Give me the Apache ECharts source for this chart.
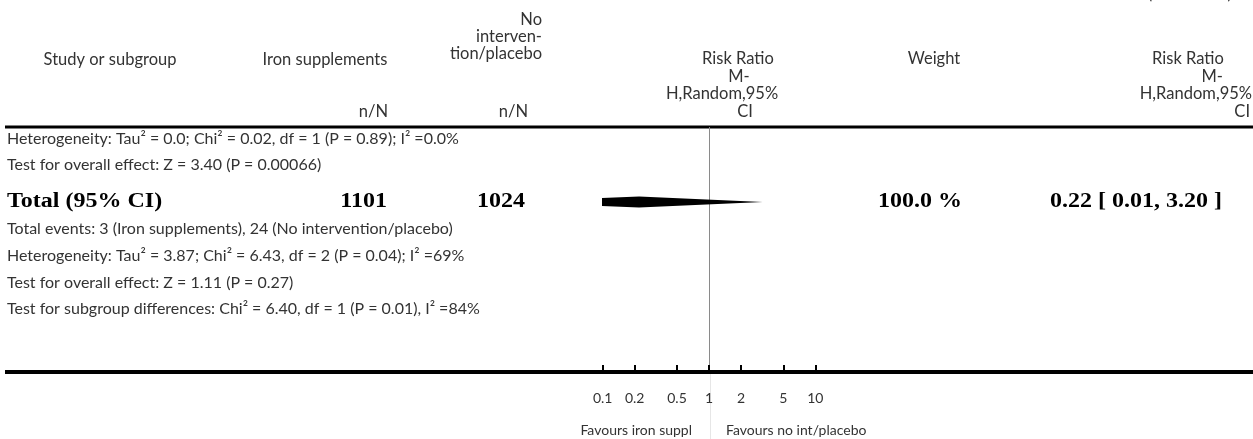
<!DOCTYPE html>
<html><head><meta charset="utf-8">
<script src="https://cdn.jsdelivr.net/npm/echarts@6/dist/echarts.min.js"></script>
<style>html,body{margin:0;padding:0;background:#fff}#c{width:1253px;height:439px}</style>
</head><body><div id="c"></div>
<script>
// ---- data ----
const tickValues = [0.1, 0.2, 0.5, 1, 2, 5, 10];
const tickLabels = ['0.1', '0.2', '0.5', '1', '2', '5', '10'];
const axisRange = [0.1, 10];
const nullValue = 1;
const totalRR = [0.22, 0.01, 3.20];           // estimate, lower, upper
const totalCounts = ['1101', '1024'];
const totalWeight = '100.0 %';
const totalRRText = '0.22 [ 0.01, 3.20 ]';
const headerCols = ['Study or subgroup', 'Iron supplements', 'No\ninterven-\ntion/placebo', 'Risk Ratio\nM-\nH,Random,95%\nCI', 'Weight', 'Risk Ratio\nM-\nH,Random,95%\nCI'];
const subLines1 = ['Heterogeneity: Tau² = 0.0; Chi² = 0.02, df = 1 (P = 0.89); I² =0.0%', 'Test for overall effect: Z = 3.40 (P = 0.00066)'];
const totalLabel = 'Total (95% CI)';
const subLines2 = ['Total events: 3 (Iron supplements), 24 (No intervention/placebo)', 'Heterogeneity: Tau² = 3.87; Chi² = 6.43, df = 2 (P = 0.04); I² =69%', 'Test for overall effect: Z = 1.11 (P = 0.27)', 'Test for subgroup differences: Chi² = 6.40, df = 1 (P = 0.01), I² =84%'];
const favourLabels = ['Favours iron suppl', 'Favours no int/placebo'];

// ---- layout ----
const SANS = 'Lato, "Open Sans", sans-serif';
const SERIF = '"Liberation Serif", "DejaVu Serif", serif';
const FS = 16, TXT = '#333';
const gridTop = 127, axisY = 372;
const chart = echarts.init(document.getElementById('c'), null, {renderer: 'canvas'});

function t(text, x, y, align, opt) {
  opt = opt || {};
  return {type: 'text', x: x, y: y, scaleX: opt.sx || 1, silent: true,
    style: {text: text, align: align || 'left', verticalAlign: opt.va || 'middle',
      font: (opt.weight || 'normal') + ' ' + (opt.size || FS) + 'px ' + (opt.family || SANS),
      fill: opt.fill || TXT}};
}
const g = [];
g.push(t('(Continued)', 1232, 2, 'right', {va: 'bottom', size: 16.5}));
// header
g.push(t(headerCols[0], 110, 60, 'center', {size: 16.5}));
g.push(t(headerCols[1], 325, 60, 'center', {size: 16.5}));
const nh = headerCols[2].split('\n');
[20, 37, 54].forEach((y, i) => g.push(t(nh[i], 542, y, 'right', {size: 16.5})));
const rr1 = headerCols[3].split('\n');
[[738, 59, 'center'], [739, 77, 'center'], [722, 94, 'center'], [745, 112, 'center']].forEach((p, i) => g.push(t(rr1[i], p[0], p[1], p[2], {size: 16.5})));
g.push(t(headerCols[4], 934, 59, 'center', {size: 16.5}));
const rr2 = headerCols[5].split('\n');
[[1188, 59, 'center'], [1223, 77, 'right'], [1252, 94, 'right'], [1250, 112, 'right']].forEach((p, i) => g.push(t(rr2[i], p[0], p[1], p[2], {size: 16.5})));
g.push(t('n/N', 388, 112, 'right', {size: 16.5}));
g.push(t('n/N', 528, 112, 'right', {size: 16.5}));
// rules
g.push({type: 'line', silent: true, shape: {x1: 5, y1: gridTop, x2: 1253, y2: gridTop}, style: {stroke: '#000', lineWidth: 3}});
g.push({type: 'line', silent: true, shape: {x1: 5, y1: axisY, x2: 1253, y2: axisY}, style: {stroke: '#000', lineWidth: 4}});
// rows
[139, 165].forEach((y, i) => g.push(t(subLines1[i], 7, y, 'left')));
const B = {weight: 'bold', size: 20, family: SERIF, fill: '#000', sx: 1.2};
g.push(t(totalLabel, 7, 202, 'left', B));
g.push(t(totalCounts[0], 387, 202, 'right', B));
g.push(t(totalCounts[1], 525, 202, 'right', B));
g.push(t(totalWeight, 878, 202, 'left', B));
g.push(t(totalRRText, 1222, 202, 'right', B));
[229, 256, 283, 309].forEach((y, i) => g.push(t(subLines2[i], 7, y, 'left')));
g.push(t(favourLabels[0], 692, 430, 'right', {size: 14}));
g.push(t(favourLabels[1], 726, 430, 'left', {size: 14}));

const option = {
  animation: false,
  grid: {left: 602.7, right: 1253 - 815.3, top: gridTop, bottom: 439 - axisY, containLabel: false},
  xAxis: {
    type: 'log', logBase: 10, min: axisRange[0], max: axisRange[1], position: 'bottom', z: 5,
    axisLine: {show: false, onZero: false},
    splitLine: {show: false},
    axisTick: {show: true, inside: true, length: 7, customValues: tickValues, lineStyle: {color: '#000', width: 2}},
    minorTick: {show: false},
    axisLabel: {customValues: tickValues, margin: 19, fontSize: 14, fontFamily: SANS, color: '#333', backgroundColor: 'transparent',
      formatter: v => { const i = tickValues.findIndex(x => Math.abs(x - v) < 1e-9 * Math.max(1, v)); return i >= 0 ? tickLabels[i] : ''; }}
  },
  yAxis: {type: 'value', min: 0, max: axisY - gridTop, inverse: true, show: false},
  series: [
    {
      type: 'custom', clip: false, silent: true, z: 0,
      data: [[nullValue]],
      renderItem: function (params, api) {
        const x = Math.round(api.coord([api.value(0), 0])[0]) + 0.5;
        const cs = params.coordSys;
        return {type: 'group', children: [
          {type: 'line', shape: {x1: x, y1: cs.y, x2: x, y2: cs.y + cs.height}, style: {stroke: '#8a8a8a', lineWidth: 1}},
          {type: 'line', shape: {x1: x + 1, y1: cs.y + cs.height + 2, x2: x + 1, y2: 439}, style: {stroke: '#e6e6e6', lineWidth: 1}}
        ]};
      }
    },
    {
      type: 'custom', clip: true, silent: true, z: 2,
      data: [[totalRR[0], totalRR[1], totalRR[2], 75]],
      renderItem: function (params, api) {
        const y = api.value(3);
        const c = api.coord([api.value(0), y]);
        const l = api.coord([api.value(1), y]);
        const r = api.coord([api.value(2), y]);
        const h = 5.4;
        return {type: 'polygon', shape: {points: [[l[0], c[1]], [c[0], c[1] - h], [r[0], c[1]], [c[0], c[1] + h]]}, style: {fill: '#000'}};
      }
    }
  ],
  graphic: g
};
chart.setOption(option);
</script></body></html>
